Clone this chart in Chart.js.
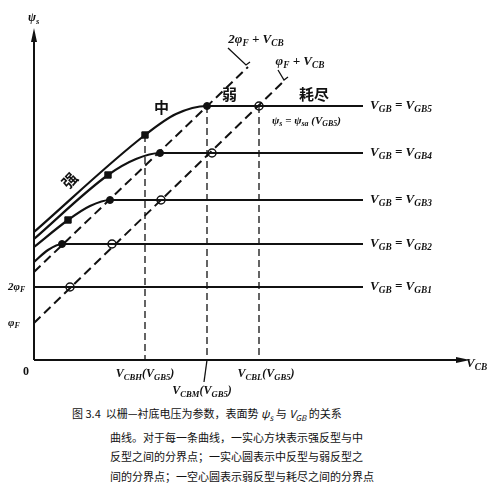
<!DOCTYPE html>
<html><head><meta charset="utf-8">
<script src="https://cdn.jsdelivr.net/npm/chart.js@4"></script>
<style>
body{margin:0;background:#fff;}
#wrap{position:relative;width:494px;height:495px;}
canvas{position:absolute;left:0;top:0;}
#cap{position:absolute;left:72px;top:404px;font-family:"Noto Sans CJK SC";font-size:11px;line-height:19.5px;color:#111;}
#cap div.i{padding-left:38px;}
</style></head><body>
<div id="wrap"><canvas id="c" width="494" height="402"></canvas>
<div id="cap">
<div>图 3.4 &nbsp;以栅—衬底电压为参数，表面势 <i>ψ<sub style="font-size:8px">s</sub></i> 与 <i>V<sub style="font-size:8px">GB</sub></i> 的关系</div>
<div class="i">曲线。对于每一条曲线，一实心方块表示强反型与中</div>
<div class="i">反型之间的分界点；一实心圆表示中反型与弱反型之</div>
<div class="i">间的分界点；一空心圆表示弱反型与耗尽之间的分界点</div>
</div></div>
<script>
// values in arbitrary units (x: V_CB, y: psi_s)
const curveGB5=[[0,128],[111,225],[142,246],[173,254],[329,254]];
const curveGB4=[[0,121],[74,185],[102,201],[126,207],[329,207]];
const curveGB3=[[0,113],[34,140],[56,154],[76,160],[329,160]];
const curveGB2=[[0,98],[14,110],[28,116],[329,116]];
const curveGB1=[[0,73],[329,73]];
const line2phi=[[0,88],[214,293]];
const line1phi=[[0,37],[251,280]];
const squares=[[111,225],[74,185],[34,140]];
const dots=[[173,254],[126,207],[76,160],[28,116]];
const circles=[[225,254],[178,207],[127,160],[78,116],[36,73]];
const vlines=[[111,225],[173,254],[225,254]];
const curveLabels=["V|GB| = V|GB5","V|GB| = V|GB4","V|GB| = V|GB3","V|GB| = V|GB2","V|GB| = V|GB1"];
const curveLevels=[254,207,160,116,73];

const P=a=>a.map(([x,y])=>({x,y}));
const ds=[];
[curveGB5,curveGB4,curveGB3,curveGB2,curveGB1].forEach(c=>ds.push({data:P(c),showLine:true,borderColor:'#111',borderWidth:2.2,pointRadius:0,cubicInterpolationMode:'monotone'}));
[line2phi,line1phi].forEach(c=>ds.push({data:P(c),showLine:true,borderColor:'#111',borderWidth:2,borderDash:[9,5],pointRadius:0}));
vlines.forEach(([x,y])=>ds.push({data:[{x,y},{x,y:0}],showLine:true,borderColor:'#111',borderWidth:1.3,borderDash:[7,4],pointRadius:0}));
ds.push({data:P(squares),showLine:false,pointStyle:'rect',pointRadius:4.5,backgroundColor:'#111',borderColor:'#111'});
ds.push({data:P(dots),showLine:false,pointStyle:'circle',pointRadius:3.5,backgroundColor:'#111',borderColor:'#111'});
ds.push({data:P(circles),showLine:false,pointStyle:'circle',pointRadius:4,backgroundColor:'#fff',borderColor:'#111',borderWidth:1.5});

function sub(ctx,str,x,y,size,align){
  const parts=str.split('|');let w=0;
  const f=(i)=>`italic bold ${i%2?size*0.72:size}px "Liberation Serif"`;
  parts.forEach((p,i)=>{ctx.font=f(i);w+=ctx.measureText(p).width;});
  let cx=align==='center'?x-w/2:x;
  parts.forEach((p,i)=>{ctx.font=f(i);ctx.fillText(p,cx,y+(i%2?size*0.28:0));cx+=ctx.measureText(p).width;});
}
const deco={id:'deco',afterDraw(ch){
  const c=ch.ctx,X=ch.scales.x,Y=ch.scales.y;
  const px=v=>X.getPixelForValue(v),py=v=>Y.getPixelForValue(v);
  c.save();c.strokeStyle='#111';c.fillStyle='#111';c.lineWidth=2;
  c.beginPath();c.moveTo(px(0),py(0));c.lineTo(px(0),py(325));c.moveTo(px(0),py(0));c.lineTo(px(428),py(0));c.stroke();
  c.beginPath();c.moveTo(px(0),py(332));c.lineTo(px(0)-3,py(318));c.lineTo(px(0)+3,py(318));c.fill();
  c.beginPath();c.moveTo(px(436),py(0));c.lineTo(px(422),py(0)-3);c.lineTo(px(422),py(0)+3);c.fill();
  c.textBaseline='middle';
  curveLabels.forEach((t,i)=>sub(c,t,px(336),py(curveLevels[i]),13,'left'));
  sub(c,"ψ|s",px(-6),py(342),12,'left');
  sub(c,"V|CB",px(432),py(-4),13,'left');
  c.font='bold 12px "Liberation Serif"';c.fillText('0',px(-11),py(-12));
  sub(c,"2φ|F",px(-26),py(73),11,'left');
  sub(c,"φ|F",px(-26),py(37),11,'left');
  sub(c,"V|CBH|(V|GB5|)",px(111),py(-14),12,'center');
  sub(c,"V|CBL|(V|GB5|)",px(232),py(-14),12,'center');
  sub(c,"V|CBM|(V|GB5|)",px(168),py(-31),12,'center');
  c.lineWidth=1.3;c.beginPath();c.moveTo(px(173),py(0));c.lineTo(px(170),py(-22));c.stroke();
  sub(c,"2φ|F| + V|CB",px(222),py(320),13,'center');
  sub(c,"φ|F| + V|CB",px(266),py(298),13,'center');
  c.beginPath();c.moveTo(px(194),py(312));c.lineTo(px(212),py(295));c.lineTo(px(216),py(298));
  c.moveTo(px(244),py(290));c.lineTo(px(250),py(280));c.lineTo(px(254),py(283));c.stroke();
  sub(c,"ψ|s| = ψ|sa| (V|GB5|)",px(238),py(239),11,'left');
  c.font='bold 15px "Noto Sans CJK SC"';
  c.fillText('中',px(120),py(253));c.fillText('弱',px(188),py(266));c.fillText('耗尽',px(265),py(266));
  c.save();c.translate(px(36),py(180));c.rotate(-0.8);c.fillText('强',-8,0);c.restore();
  c.restore();
}};
new Chart(document.getElementById('c'),{type:'scatter',data:{datasets:ds},
 options:{responsive:false,animation:false,layout:{padding:{left:34,right:30,top:30,bottom:42}},
  plugins:{legend:{display:false},tooltip:{enabled:false}},
  elements:{line:{fill:false}},
  scales:{x:{type:'linear',min:0,max:430,display:false},y:{type:'linear',min:0,max:330,display:false}}},
 plugins:[deco]});
</script></body></html>
